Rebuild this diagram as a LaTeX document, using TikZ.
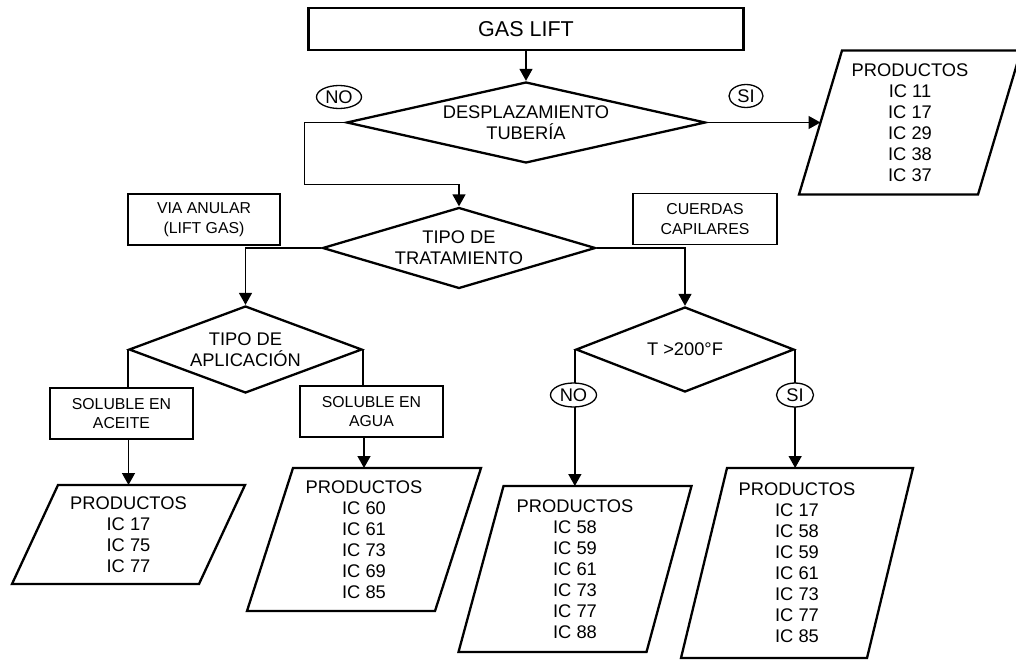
\documentclass[tikz,border=0pt]{standalone}
\usepackage{fontspec}
\setmainfont{Liberation Sans}
\usepackage{tikz}
\usetikzlibrary{arrows.meta,positioning,shapes.geometric}

\newcommand{\slantbox}[2]{\draw[line width=2.3pt, line join=miter] ([xshift=#2pt]#1.north west) -- ([xshift=#2pt]#1.north east) -- ([xshift=-#2pt]#1.south east) -- ([xshift=-#2pt]#1.south west) -- cycle;}

\begin{document}
\begin{tikzpicture}[
x=1pt, y=-1pt,
every node/.style={font=\fontsize{18.3}{21}\selectfont},
title/.style={draw, line width=2.4pt, minimum width=435pt, minimum height=42pt, font=\fontsize{21.5}{24}\selectfont},
dec/.style={draw, diamond, line width=2.3pt, inner sep=0pt, align=center},
lbl/.style={draw, line width=1.2pt, minimum height=51pt, align=center, font=\fontsize{15.8}{19.5}\selectfont},
prod/.style={inner sep=0pt, outer sep=0pt, align=center},
tag/.style={draw, ellipse, fill=white, line width=1.3pt, inner sep=0pt, minimum height=23pt},
arr/.style={-{Triangle[length=12pt, width=13pt]}, line width=1.4pt},
lin/.style={line width=1.4pt}
]
\useasboundingbox (0,0) rectangle (1016,660);

\node[title] (gas) at (526,29) {GAS LIFT};
\node[dec, aspect=4.4, minimum width=359pt, minimum height=81pt] (tub) at (526,122.5) {DESPLAZAMIENTO\\TUBERÍA};
\node[dec, aspect=3.4, minimum width=273pt, minimum height=81pt] (trat) at (459,248) {TIPO DE\\TRATAMIENTO};
\node[dec, aspect=2.7, minimum width=233pt, minimum height=87pt] (apl) at (245.5,349.5) {TIPO DE\\APLICACIÓN};
\node[dec, aspect=2.6, minimum width=218pt, minimum height=85pt] (temp) at (685,349.5) {T >200°F};

\node[lbl, minimum width=152pt] (anular) at (204,219.5) {VIA ANULAR\\(LIFT GAS)};
\node[lbl, minimum width=144pt] (capil) at (705,219) {CUERDAS\\CAPILARES};
\node[lbl, minimum width=143pt] (aceite) at (121.5,413.5) {SOLUBLE EN\\ACEITE};
\node[lbl, minimum width=143pt] (agua) at (371.5,411.5) {SOLUBLE EN\\AGUA};

\node[prod, minimum width=179pt, minimum height=144pt] (ptub) at (910,122.5) {PRODUCTOS\\IC 11\\IC 17\\IC 29\\IC 38\\IC 37};
\node[prod, minimum width=187pt, minimum height=99pt] (pacei) at (128.5,534.5) {PRODUCTOS\\IC 17\\IC 75\\IC 77};
\node[prod, minimum width=188pt, minimum height=143pt] (pagua) at (364,539.5) {PRODUCTOS\\IC 60\\IC 61\\IC 73\\IC 69\\IC 85};
\node[prod, minimum width=188pt, minimum height=166pt] (pno) at (575,569) {PRODUCTOS\\IC 58\\IC 59\\IC 61\\IC 73\\IC 77\\IC 88};
\node[prod, minimum width=186pt, minimum height=190pt] (psi) at (797,563) {PRODUCTOS\\IC 17\\IC 58\\IC 59\\IC 61\\IC 73\\IC 77\\IC 85};
\slantbox{ptub}{21.5}
\slantbox{pacei}{23}
\slantbox{pagua}{23}
\slantbox{pno}{22.5}
\slantbox{psi}{23}

\draw[arr] (gas) -- (tub);
\draw[arr] (tub.east) -- (ptub.west);
\draw[arr] (tub.west) -| ++(-41,62) -| (trat.north);
\draw[arr] (trat.west) -| (apl.north);
\draw[arr] (trat.east) -| (temp.north);
\draw[lin] (apl.west) -- (apl.west |- aceite.north);
\draw[lin] (apl.east) -- (apl.east |- agua.north);
\draw[arr] (aceite.south -| pacei.north) -- (pacei.north);
\draw[arr] (agua.south -| pagua.north) -- (pagua.north);
\draw[arr] (temp.west) -- (temp.west |- pno.north);
\draw[arr] (temp.east) -- (temp.east |- psi.north);

\node[tag, minimum width=45pt] (notub) at (339,97) {NO};
\node[tag, minimum width=34pt] (situb) at (746,96) {SI};
\node[tag, minimum width=46pt, minimum height=24pt] (notemp) at (573.5,395) {NO};
\node[tag, minimum width=37pt, minimum height=24pt] (sitemp) at (795,395) {SI};
\end{tikzpicture}
\end{document}
